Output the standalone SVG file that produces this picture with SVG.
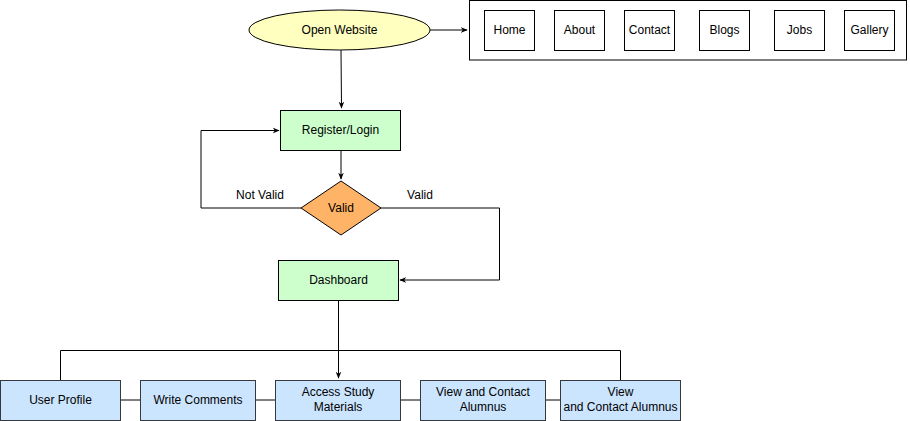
<svg xmlns="http://www.w3.org/2000/svg" width="910" height="421" viewBox="0 0 910 421">
<defs>
<marker id="arr" viewBox="0 0 10 10" refX="9" refY="5" markerWidth="7" markerHeight="7" orient="auto" markerUnits="userSpaceOnUse">
<path d="M0,1 L10,5 L0,9 L3,5 Z" fill="#000"/>
</marker>
<style>
text{font-family:"Liberation Sans",Arial,sans-serif;font-size:12px;fill:#000;text-anchor:middle;dominant-baseline:central}
.e{stroke:#000;stroke-width:1;fill:none}
.g{fill:#ccffcc;stroke:#000}
.b{fill:#cce5ff;stroke:#36393d}
.w{fill:#fff;stroke:#000}
</style>
</defs>
<rect width="910" height="421" fill="#fff"/>
<g id="connectors">
<path class="e" d="M430,30 L467,30" marker-end="url(#arr)"/>
<path class="e" d="M341,50 L341.5,108" marker-end="url(#arr)"/>
<path class="e" d="M341,150 L341,179" marker-end="url(#arr)"/>
<path class="e" d="M301,208 L201,208 L201,130.5 L279,130.5" marker-end="url(#arr)"/>
<path class="e" d="M381,208 L499.5,208 L499.5,280 L400,280" marker-end="url(#arr)"/>
<path class="e" d="M338.5,300 L338.5,378" marker-end="url(#arr)"/>
<path class="e" d="M60.5,380 L60.5,350.5 L620.5,350.5 L620.5,380"/>
<path class="e" d="M120.5,400 L140.5,400 M255.5,400 L275.5,400 M400.5,400 L420.5,400 M545.5,400 L560.5,400"/>
<text x="260" y="195">Not Valid</text>
<text x="420" y="195">Valid</text>
</g>
<g id="open-website"><ellipse cx="339.5" cy="30" rx="90.5" ry="20" fill="#ffffc0" stroke="#000"/><text x="339.5" y="30">Open Website</text></g>
<g id="menu"><rect class="w" x="469.5" y="0.5" width="437" height="59.5"/></g>
<g id="home"><rect class="w" x="484.5" y="10.5" width="50" height="40"/><text x="509.5" y="30">Home</text></g>
<g id="about"><rect class="w" x="554.5" y="10.5" width="50" height="40"/><text x="579.5" y="30">About</text></g>
<g id="contact"><rect class="w" x="624.5" y="10.5" width="50" height="40"/><text x="649.5" y="30">Contact</text></g>
<g id="blogs"><rect class="w" x="699.5" y="10.5" width="50" height="40"/><text x="724.5" y="30">Blogs</text></g>
<g id="jobs"><rect class="w" x="774.5" y="10.5" width="50" height="40"/><text x="799.5" y="30">Jobs</text></g>
<g id="gallery"><rect class="w" x="844.5" y="10.5" width="50" height="40"/><text x="869.5" y="30">Gallery</text></g>
<g id="register"><rect class="g" x="280.5" y="110.5" width="120" height="40"/><text x="340.5" y="130">Register/Login</text></g>
<g id="valid"><polygon points="341,181 381,208 341,235 301,208" fill="#ffb366" stroke="#000"/><text x="341" y="208">Valid</text></g>
<g id="dashboard"><rect class="g" x="278.5" y="260.5" width="120" height="40"/><text x="338.5" y="280">Dashboard</text></g>
<g id="user-profile"><rect class="b" x="0.5" y="380.5" width="120" height="40"/><text x="60.5" y="400">User Profile</text></g>
<g id="write-comments"><rect class="b" x="140.5" y="380.5" width="115" height="40"/><text x="198" y="400">Write Comments</text></g>
<g id="access-study"><rect class="b" x="275.5" y="380.5" width="125" height="40"/><text x="338" y="392">Access Study</text><text x="338" y="407">Materials</text></g>
<g id="view-contact-1"><rect class="b" x="420.5" y="380.5" width="125" height="40"/><text x="483" y="392">View and Contact</text><text x="483" y="407">Alumnus</text></g>
<g id="view-contact-2"><rect class="b" x="560.5" y="380.5" width="120" height="40"/><text x="620.5" y="392">View</text><text x="620.5" y="407">and Contact Alumnus</text></g>
</svg>
